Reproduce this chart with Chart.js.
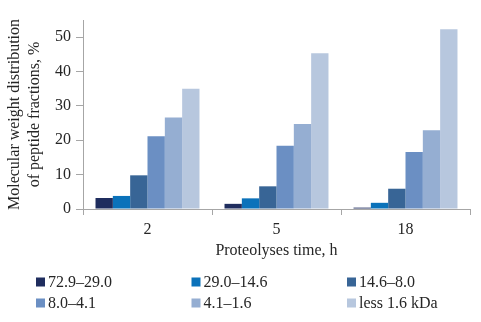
<!DOCTYPE html>
<html>
<head>
<meta charset="utf-8">
<script src="https://cdn.jsdelivr.net/npm/chart.js@4/dist/chart.umd.min.js"></script>
<style>
  html, body { margin: 0; padding: 0; background: #fff; }
  canvas { display: block; }
</style>
</head>
<body>
<canvas id="myChart" width="481" height="322"></canvas>
<script>
// proteolysis time, h
const hours = ['2', '5', '18'];

// molecular weight fractions, kDa
const fractions = ['72.9\u201329.0', '29.0\u201314.6', '14.6\u20138.0', '8.0\u20134.1', '4.1\u20131.6', 'less 1.6 kDa'];

// % of each fraction at 2, 5, 18 h
const frac729 = [3.2, 1.5, 0.4];
const frac290 = [3.8, 3.1, 1.8];
const frac146 = [9.8, 6.6, 5.9];
const frac80 = [21.2, 18.4, 16.6];
const frac41 = [26.6, 24.7, 22.9];
const frac16 = [35.0, 45.3, 52.3];

const yTicks = [0, 10, 20, 30, 40, 50];

const colors = ['#1f2d5e', '#0b72ba', '#386596', '#6b8fc3', '#95aed2', '#b7c7de'];
const serif = '"Liberation Serif", "Times New Roman", serif';
const axisGray = '#a6a6a6';
const textColor = '#262626';

// legend in 3 columns under the chart
const gridLegend = {
    id: 'gridLegend',
    afterDraw(chart) {
        const ctx = chart.ctx;
        ctx.save();
        ctx.font = '16px ' + serif;
        ctx.textBaseline = 'middle';
        ctx.textAlign = 'left';
        chart.data.datasets.forEach((ds, i) => {
            const x = 36 + (i % 3) * 155.5;
            const y = 282 + Math.floor(i / 3) * 21;
            ctx.fillStyle = ds.backgroundColor;
            ctx.fillRect(x, y - 4.5, 9, 9);
            ctx.fillStyle = textColor;
            ctx.fillText(ds.label, x + 12, y + 1);
        });
        ctx.restore();
    }
};

const seriesData = [frac729, frac290, frac146, frac80, frac41, frac16];

const ctx = document.getElementById('myChart').getContext('2d');
const chart = new Chart(ctx, {
    type: 'bar',
    data: {
        labels: hours,
        datasets: fractions.map((f, i) => ({
            label: f,
            data: seriesData[i],
            backgroundColor: colors[i],
            borderWidth: 0,
            categoryPercentage: 0.806,
            barPercentage: 1
        }))
    },
    options: {
        responsive: false,
        animation: false,
        layout: { padding: { left: 0, right: 11, top: 20, bottom: 61 } },
        plugins: {
            legend: { display: false },
            tooltip: { enabled: false }
        },
        scales: {
            x: {
                afterFit: s => { s.height = 52; },
                grid: { drawOnChartArea: false, color: axisGray, tickLength: 6 },
                border: { color: axisGray },
                ticks: { font: { family: serif, size: 16 }, color: textColor, padding: 5 },
                title: {
                    display: true,
                    text: 'Proteolyses time, h',
                    font: { family: serif, size: 16, lineHeight: 1.2 },
                    color: textColor,
                    padding: { top: 0, bottom: 1 }
                }
            },
            y: {
                min: 0,
                max: 55,
                afterFit: s => { s.width = 83; },
                afterBuildTicks: s => { s.ticks = yTicks.map(v => ({ value: v })); },
                grid: { drawOnChartArea: false, color: axisGray, tickLength: 7 },
                border: { color: axisGray },
                ticks: { font: { family: serif, size: 16 }, color: textColor, padding: 5 },
                title: {
                    display: true,
                    text: ['Molecular weight distribution', 'of peptide fractions, %'],
                    font: { family: serif, size: 16, lineHeight: 1.25 },
                    color: textColor,
                    padding: { top: 5, bottom: 0 }
                }
            }
        }
    },
    plugins: [gridLegend]
});
</script>
</body>
</html>
